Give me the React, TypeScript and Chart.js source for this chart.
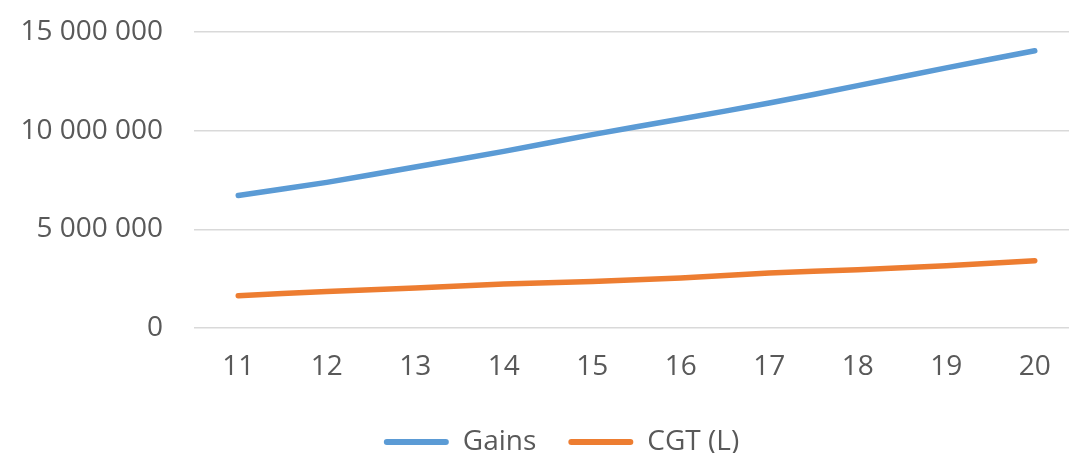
import React, { useEffect, useRef } from "react";
import { Chart, registerables } from "chart.js";

Chart.register(...registerables);

const years = ["11", "12", "13", "14", "15", "16", "17", "18", "19", "20"];
const gains = [6710000, 7380000, 8160000, 8950000, 9800000, 10590000, 11400000, 12280000, 13180000, 14050000];
const cgt = [1640000, 1850000, 2030000, 2230000, 2360000, 2530000, 2790000, 2950000, 3160000, 3410000];
const yTicks = { min: 0, max: 15000000, step: 5000000 };

const BLUE = "#5B9BD5";
const ORANGE = "#ED7D31";
const TEXT = "#595959";
const GRID = "#D9D9D9";
const FONT = "'Open Sans', 'DejaVu Sans', sans-serif";
const SIZE = 28;

const fmt = (v: number) => String(Math.round(v)).replace(/\B(?=(\d{3})+(?!\d))/g, " ");

// nudge the legend row sideways by a fixed amount
const legendNudge = {
  id: "legendNudge",
  afterLayout(chart: any, _args: any, opts: any) {
    const lg = chart.legend;
    if (!lg) return;
    lg.left += opts.dx || 0;
    lg.right += opts.dx || 0;
  },
};

export default function App() {
  const ref = useRef<HTMLCanvasElement | null>(null);

  useEffect(() => {
    if (!ref.current) return;
    const chart = new Chart(ref.current, {
      type: "line",
      plugins: [legendNudge],
      data: {
        labels: years,
        datasets: [
          {
            label: "Gains",
            data: gains,
            borderColor: BLUE,
            backgroundColor: BLUE,
            borderWidth: 5.5,
            borderCapStyle: "round",
            borderJoinStyle: "round",
            pointRadius: 0,
            tension: 0.25,
          },
          {
            label: "CGT (L)",
            data: cgt,
            borderColor: ORANGE,
            backgroundColor: ORANGE,
            borderWidth: 5.5,
            borderCapStyle: "round",
            borderJoinStyle: "round",
            pointRadius: 0,
            tension: 0.25,
          },
        ],
      },
      options: {
        responsive: false,
        animation: false,
        layout: { padding: { top: 32, right: 1, left: 0, bottom: 0 } },
        plugins: {
          tooltip: { enabled: false },
          legendNudge: { dx: 22 },
          legend: {
            position: "bottom",
            labels: {
              color: TEXT,
              font: { family: FONT, size: SIZE },
              boxWidth: 65,
              boxHeight: 6,
              padding: 32,
              useBorderRadius: true,
              generateLabels: (c: any) =>
                c.data.datasets.map((d: any, i: number) => ({
                  text: d.label,
                  fillStyle: d.borderColor,
                  strokeStyle: d.borderColor,
                  lineWidth: 0,
                  borderRadius: 3,
                  fontColor: TEXT,
                  datasetIndex: i,
                  hidden: false,
                })),
            },
          },
        } as any,
        scales: {
          x: {
            offset: true,
            grid: { display: false, drawTicks: false },
            border: { display: false },
            ticks: { color: TEXT, font: { family: FONT, size: SIZE }, padding: 22, maxRotation: 0 },
            afterFit: (s: any) => {
              s.height = 68;
            },
          },
          y: {
            min: yTicks.min,
            max: yTicks.max,
            grid: { color: GRID, lineWidth: 1.5, drawTicks: false },
            border: { display: false },
            ticks: {
              stepSize: yTicks.step,
              color: TEXT,
              font: { family: FONT, size: SIZE },
              padding: 31,
              callback: (v: any) => fmt(Number(v)),
            },
            afterFit: (s: any) => {
              s.width = 194;
              s.paddingTop = 0;
              s.paddingBottom = 0;
            },
          },
        },
      },
    });
    return () => chart.destroy();
  }, []);

  return (
    <div style={{ position: "fixed", left: 0, top: 0, width: 1069, height: 453, overflow: "hidden", background: "#fff" }}>
      <canvas ref={ref} width={1080} height={466} style={{ display: "block" }} />
    </div>
  );
}
